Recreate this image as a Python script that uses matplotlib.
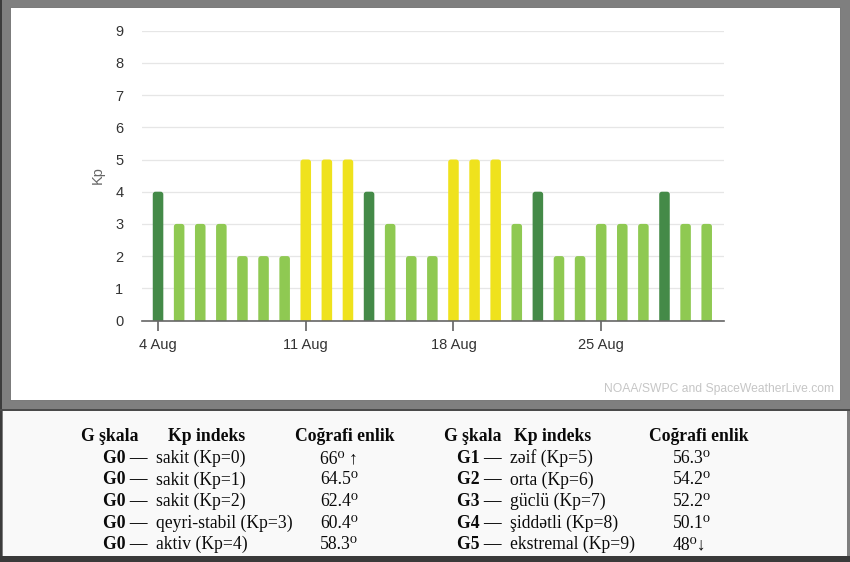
import matplotlib
matplotlib.use("Agg")
import matplotlib.pyplot as plt
from matplotlib.patches import Rectangle, FancyBboxPatch

# ---------------- data ----------------
days = ['4 Aug', '5 Aug', '6 Aug', '7 Aug', '8 Aug', '9 Aug', '10 Aug',
        '11 Aug', '12 Aug', '13 Aug', '14 Aug', '15 Aug', '16 Aug', '17 Aug',
        '18 Aug', '19 Aug', '20 Aug', '21 Aug', '22 Aug', '23 Aug', '24 Aug',
        '25 Aug', '26 Aug', '27 Aug', '28 Aug', '29 Aug', '30 Aug']
kp = [4, 3, 3, 3, 2, 2, 2, 5, 5, 5, 4, 3, 2, 2, 5, 5, 5, 3, 4, 2, 2, 3, 3, 3, 4, 3, 3]
tick_labels = ['4 Aug', '11 Aug', '18 Aug', '25 Aug']
y_ticks = [0, 1, 2, 3, 4, 5, 6, 7, 8, 9]

headers = ['G şkala', 'Kp indeks', 'Coğrafi enlik']
left_scale = ['G0 —', 'G0 —', 'G0 —', 'G0 —', 'G0 —']
left_desc = ['sakit (Kp=0)', 'sakit (Kp=1)', 'sakit (Kp=2)', 'qeyri-stabil (Kp=3)', 'aktiv (Kp=4)']
left_lat = ['66⁰ ↑', '64.5⁰', '62.4⁰', '60.4⁰', '58.3⁰']
right_scale = ['G1 —', 'G2 —', 'G3 —', 'G4 —', 'G5 —']
right_desc = ['zəif (Kp=5)', 'orta (Kp=6)', 'güclü (Kp=7)', 'şiddətli (Kp=8)', 'ekstremal (Kp=9)']
right_lat = ['56.3⁰', '54.2⁰', '52.2⁰', '50.1⁰', '48⁰↓']

# ---------------- figure ----------------
W, H = 850, 562
fig = plt.figure(figsize=(W / 100, H / 100), dpi=100)
fig.patch.set_facecolor('#7f7f7f')

bg = fig.add_axes([0, 0, 1, 1], zorder=0)
bg.set_xlim(0, W)
bg.set_ylim(H, 0)
bg.axis('off')

# frame pieces
bg.add_patch(Rectangle((0, 0), 2.5, H, color='#3c3c3c', lw=0))
bg.add_patch(Rectangle((10, 7), 830, 393, facecolor='white', edgecolor='#707070', lw=0.6))
bg.add_patch(Rectangle((0, 408.5), W, 2.5, color='#4a4a4a', lw=0))
bg.add_patch(Rectangle((3, 411), 844, 145, color='#f9f9f9', lw=0))
bg.add_patch(Rectangle((0, 556), W, 6, color='#3a3a3a', lw=0))

# watermark
bg.text(834, 389, 'NOAA/SWPC and SpaceWeatherLive.com', ha='right', va='center',
        fontsize=8.7, color='#c6c6c6', family=['Liberation Sans', 'DejaVu Sans'])

# ---------------- table ----------------
serif = ['Liberation Serif', 'DejaVu Serif']
fs = 12.7
ink = '#0a0a0a'
hdr_y = 441
row_y = [463, 484.5, 506, 527.5, 549]

for x, h in zip([81, 168, 295], headers):
    bg.text(x, hdr_y, h, ha='left', va='baseline', fontsize=fs, fontweight='bold',
            family=serif, color=ink)
for x, h in zip([444, 514, 649], headers):
    bg.text(x, hdr_y, h, ha='left', va='baseline', fontsize=fs, fontweight='bold',
            family=serif, color=ink)

for i, y in enumerate(row_y):
    bg.text(103, y, left_scale[i], ha='left', va='baseline', fontsize=fs,
            fontweight='bold', family=serif, color=ink)
    bg.text(156, y, left_desc[i], ha='left', va='baseline', fontsize=fs,
            family=serif, color=ink)
    bg.text(320, y, left_lat[i], ha='left', va='baseline', fontsize=fs,
            family=serif, color=ink)
    bg.text(457, y, right_scale[i], ha='left', va='baseline', fontsize=fs,
            fontweight='bold', family=serif, color=ink)
    bg.text(510, y, right_desc[i], ha='left', va='baseline', fontsize=fs,
            family=serif, color=ink)
    bg.text(673, y, right_lat[i], ha='left', va='baseline', fontsize=fs,
            family=serif, color=ink)

# ---------------- chart ----------------
left_px, right_px = 142, 724
y0_px, y9_px = 320.5, 30.7
ax = fig.add_axes([left_px / W, (H - y0_px) / H, (right_px - left_px) / W,
                   (y0_px - y9_px) / H], zorder=1)
ax.set_facecolor('none')

xlim = (-0.76, 26.82)
ylim = (0, 9)
ax.set_xlim(*xlim)
ax.set_ylim(*ylim)

x = list(range(len(days)))


def bar_color(v):
    if v >= 5:
        return '#efe21d'
    if v == 4:
        return '#448a48'
    return '#8fc952'


# rounded-top bars (bottom corners fall below 0 and are clipped)
px_per_x = (right_px - left_px) / (xlim[1] - xlim[0])
px_per_y = (y0_px - y9_px) / (ylim[1] - ylim[0])
aspect = px_per_x / px_per_y
bw = 0.5
r = 0.13
for xi, v in zip(x, kp):
    p = FancyBboxPatch((xi - bw / 2, -0.3), bw, v + 0.3,
                       boxstyle=f'round,pad=0,rounding_size={r}',
                       mutation_aspect=aspect, facecolor=bar_color(v),
                       edgecolor='none', zorder=3, clip_on=True)
    ax.add_patch(p)

ax.set_yticks(y_ticks)
ax.set_yticklabels([str(t) for t in y_ticks])
ax.yaxis.grid(True, color='#e6e6e6', linewidth=0.9, zorder=0)
ax.set_axisbelow(True)

tick_pos = [days.index(t) for t in tick_labels]
ax.set_xticks(tick_pos)
ax.set_xticklabels(tick_labels)

for s in ['top', 'right', 'left']:
    ax.spines[s].set_visible(False)
ax.spines['bottom'].set_color('#666666')
ax.spines['bottom'].set_linewidth(1.2)
ax.spines['bottom'].set_zorder(4)

sans = ['Liberation Sans', 'DejaVu Sans']
ax.tick_params(axis='x', length=7.5, width=1.1, color='#555555', pad=5,
               labelsize=10.5, labelcolor='#333333')
ax.tick_params(axis='y', length=0, pad=13.5, labelsize=10.5, labelcolor='#333333')
for lab in ax.get_xticklabels() + ax.get_yticklabels():
    lab.set_family(sans)

bg.text(98, 175, 'Kp', rotation=90, ha='center', va='center', fontsize=10.5,
        color='#666666', family=sans)

fig.savefig('out.png', dpi=100, facecolor=fig.get_facecolor())
